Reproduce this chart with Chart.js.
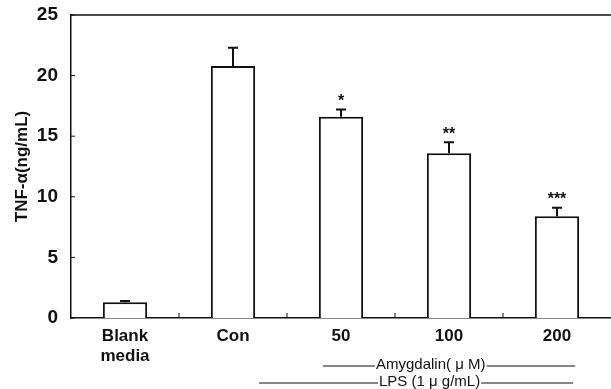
<!DOCTYPE html>
<html>
<head>
<meta charset="utf-8">
<script src="https://cdn.jsdelivr.net/npm/chart.js@4"></script>
<style>
  html, body { margin: 0; padding: 0; background: #fff; }
  #wrap { width: 611px; height: 389px; position: relative; }
</style>
</head>
<body>
<div id="wrap"><canvas id="grafico"></canvas></div>
<script>
// dados
const categorias = [['Blank', 'media'], 'Con', '50', '100', '200'];
const valores = [1.3, 20.8, 16.6, 13.6, 8.4];
const erros = [0.1, 1.5, 0.6, 0.9, 0.7];
const estrelas = ['', '', '*', '**', '***'];
const yTicks = [0, 5, 10, 15, 20, 25];

const cor = '#111';
const fonte = 'Liberation Sans, Arial, Helvetica, sans-serif';

// barras de erro, asteriscos, bordas e legendas de tratamento
const extras = {
  id: 'extras',
  afterDatasetsDraw(chart) {
    const ctx = chart.ctx;
    const x = chart.scales.x, y = chart.scales.y;
    const area = chart.chartArea;
    const meta = chart.getDatasetMeta(0);
    ctx.save();
    ctx.strokeStyle = cor;
    ctx.fillStyle = cor;

    // linha superior
    ctx.lineWidth = 1.5;
    ctx.beginPath();
    ctx.moveTo(area.left, area.top);
    ctx.lineTo(area.right, area.top);
    ctx.stroke();

    // tracinhos do eixo y (para dentro)
    ctx.lineWidth = 1;
    yTicks.forEach(v => {
      const py = y.getPixelForValue(v);
      ctx.beginPath();
      ctx.moveTo(area.left, py);
      ctx.lineTo(area.left + 4, py);
      ctx.stroke();
    });

    // tracinhos entre categorias
    for (let i = 0; i < categorias.length - 1; i++) {
      const px = (x.getPixelForValue(i) + x.getPixelForValue(i + 1)) / 2;
      ctx.beginPath();
      ctx.moveTo(px, area.bottom);
      ctx.lineTo(px, area.bottom - 5);
      ctx.stroke();
    }

    // barras de erro
    meta.data.forEach((bar, i) => {
      const topo = y.getPixelForValue(valores[i] + erros[i]);
      ctx.lineWidth = 2;
      ctx.beginPath();
      ctx.moveTo(bar.x, bar.y);
      ctx.lineTo(bar.x, topo);
      ctx.moveTo(bar.x - 5, topo);
      ctx.lineTo(bar.x + 5, topo);
      ctx.stroke();
      if (estrelas[i]) {
        ctx.font = 'bold 16px ' + fonte;
        ctx.textAlign = 'center';
        ctx.textBaseline = 'middle';
        ctx.fillText(estrelas[i], bar.x, topo - 8);
      }
    });

    // legendas Amygdalin / LPS com linhas
    const meia = meta.data[2].width / 2;
    const linhaTexto = (x0, x1, py, texto, tx) => {
      ctx.font = '15px ' + fonte;
      ctx.textAlign = 'left';
      ctx.textBaseline = 'middle';
      const w = ctx.measureText(texto).width;
      ctx.fillText(texto, tx, py);
      ctx.lineWidth = 1;
      ctx.beginPath();
      ctx.moveTo(x0, py + 1);
      ctx.lineTo(tx - 1, py + 1);
      ctx.moveTo(tx + w + 1, py + 1);
      ctx.lineTo(x1, py + 1);
      ctx.stroke();
    };
    linhaTexto(x.getPixelForValue(2) - meia + 4, x.getPixelForValue(4) + meia - 4, 365,
      'Amygdalin( \u03bc M)', 376);
    linhaTexto(x.getPixelForValue(1) + meia + 4, x.getPixelForValue(4) + meia - 6, 382,
      'LPS (1 \u03bc g/mL)', 379);
    ctx.restore();
  }
};

new Chart(document.getElementById('grafico'), {
  type: 'bar',
  data: {
    labels: categorias,
    datasets: [{
      data: valores,
      backgroundColor: '#fff',
      borderColor: cor,
      borderWidth: 2,
      borderSkipped: 'start',
      barPercentage: 0.41,
      categoryPercentage: 1
    }]
  },
  options: {
    responsive: true,
    maintainAspectRatio: false,
    animation: false,
    layout: { padding: { top: 15, right: 0, bottom: 0, left: 0 } },
    plugins: { legend: { display: false }, tooltip: { enabled: false } },
    scales: {
      x: {
        grid: { display: false },
        border: { display: true, color: cor, width: 1.5 },
        ticks: { color: cor, padding: 0, font: { family: fonte, size: 17, weight: 'bold' }, maxRotation: 0 },
        afterFit(s) { s.height = 71; s.paddingLeft = 0; s.paddingRight = 0; }
      },
      y: {
        min: 0,
        max: 25,
        grid: { display: false, tickLength: 0 },
        border: { display: true, color: cor, width: 1.5 },
        ticks: { color: cor, stepSize: 5, padding: 13, font: { family: fonte, size: 19, weight: 'bold' } },
        title: {
          display: true,
          text: 'TNF-\u03b1(ng/mL)',
          color: cor,
          padding: { top: 12, bottom: 0 },
          font: { family: fonte, size: 17, weight: 'bold' }
        },
        afterFit(s) { s.width = 71; s.paddingTop = 0; s.paddingBottom = 0; }
      }
    }
  },
  plugins: [extras]
});
</script>
</body>
</html>
